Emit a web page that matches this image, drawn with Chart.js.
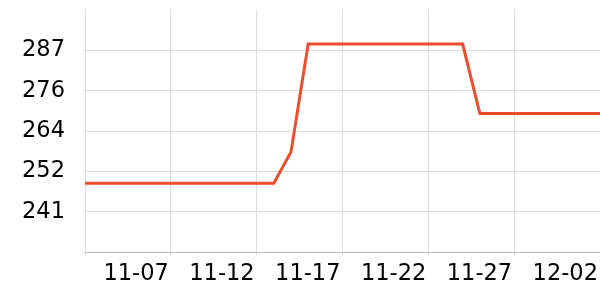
<!DOCTYPE html>
<html>
<head>
<meta charset="utf-8">
<script src="https://cdn.jsdelivr.net/npm/chart.js@4"></script>
<style>
  html, body { margin: 0; padding: 0; background: #fff; }
  #wrap { width: 600px; height: 300px; }
</style>
</head>
<body>
<div id="wrap"><canvas id="myChart" width="600" height="300"></canvas></div>
<script>
const dates = [
  "11-02","11-03","11-04","11-05","11-06","11-07","11-08","11-09","11-10","11-11",
  "11-12","11-13","11-14","11-15","11-16","11-17","11-18","11-19","11-20","11-21",
  "11-22","11-23","11-24","11-25","11-26","11-27","11-28","11-29","11-30","12-01","12-02"
];
const prices = [
  249,249,249,249,249,249,249,249,249,249,
  249,249,258,289,289,289,289,289,289,289,
  289,289,289,269,269,269,269,269,269,269,269
];
const yTicks = [229.2, 240.8, 252.4, 264.0, 275.6, 287.2];
const yTickLabels = ["", "241", "252", "264", "276", "287"];
const yMin = 229.2, yMax = 298.8;

const font = { family: "DejaVu Sans", size: 22.5 };

new Chart("myChart", {
  type: "line",
  data: {
    labels: dates,
    datasets: [{
      data: prices,
      borderColor: "#ee4d2d",
      borderWidth: 3,
      pointRadius: 0,
      tension: 0,
      fill: false
    }]
  },
  options: {
    responsive: false,
    animation: false,
    layout: { padding: { top: 10, right: 0, left: 0, bottom: 0 } },
    plugins: { legend: { display: false }, tooltip: { enabled: false } },
    scales: {
      x: {
        offset: false,
        grid: { color: "#dddddd", tickLength: 3, drawTicks: true },
        border: { color: "#bbbbbb" },
        ticks: {
          autoSkip: false,
          maxRotation: 0,
          align: "end",
          labelOffset: -2,
          padding: 6,
          color: "#000",
          font: font,
          callback: (v, i) => (i % 5 === 0 && i > 0) ? dates[i] : (i === 0 ? "" : null)
        },
        afterFit: (s) => { s.height = 48; s.paddingLeft = 0; s.paddingRight = 0; }
      },
      y: {
        min: yMin,
        max: yMax,
        afterBuildTicks: (s) => { s.ticks = yTicks.map(v => ({ value: v })); },
        grid: { color: "#dddddd", tickLength: 2 },
        border: { color: "#dddddd" },
        ticks: {
          padding: 18,
          color: "#000",
          font: font,
          callback: (v, i) => yTickLabels[i]
        },
        afterFit: (s) => { s.width = 85; s.paddingTop = 0; s.paddingBottom = 0; }
      }
    }
  }
});
</script>
</body>
</html>
